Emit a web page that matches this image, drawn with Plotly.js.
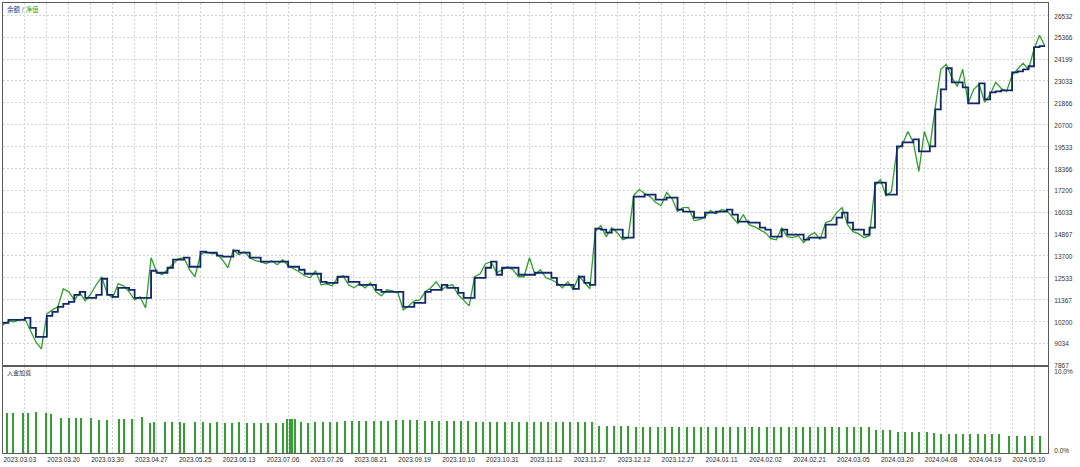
<!DOCTYPE html>
<html><head><meta charset="utf-8">
<script src="https://cdn.plot.ly/plotly-3.0.1.min.js"></script>
<style>html,body{margin:0;padding:0;background:#fff}#chart{width:1080px;height:467px}</style>
</head><body><div id="chart"></div>
<script>
const dateLabels = ['2023.03.03','2023.03.20','2023.03.30','2023.04.27','2023.05.25','2023.06.13','2023.07.06','2023.07.26','2023.08.21','2023.09.19','2023.10.10','2023.10.31','2023.11.12','2023.11.27','2023.12.12','2023.12.27','2024.01.11','2024.02.02','2024.02.21','2024.03.05','2024.03.20','2024.04.08','2024.04.19','2024.05.10'];

const balance = [10114,10275,10275,10275,10382,9847,9365,9365,10489,10703,10971,11131,11238,11613,11773,11452,11452,11613,12469,11613,11506,11987,11987,11880,11452,11452,11452,12897,12790,12790,13057,13486,13486,13593,13111,13111,13914,13860,13860,13700,13646,13646,13967,13860,13860,13593,13593,13379,13379,13379,13379,13379,13111,13111,12950,12736,12736,12736,12308,12255,12255,12576,12576,12308,12308,12148,12148,12148,11880,11773,11773,11773,11773,10971,10971,11185,11185,11773,11880,11880,12148,11987,11987,11720,11452,11452,12522,12522,13057,13379,12683,13057,13057,13057,12683,12683,12683,12790,12790,12790,12522,12148,12148,12148,11934,12576,12255,12148,15144,15091,14930,15091,15091,14663,14663,16857,16857,16964,16964,16696,16696,16803,16803,16161,16054,16054,15733,15733,16001,16001,16054,16054,16161,15894,15519,15519,15465,15465,15198,15091,14716,14716,15091,14823,14823,14823,14556,14663,14663,14663,15358,15358,15733,16001,15465,15091,15091,14823,15198,17606,17606,16964,16964,19532,19746,19746,19907,19265,19265,19532,21512,22582,23706,22957,22957,22689,21833,21833,22903,22047,22422,22475,22529,22529,23492,23545,23652,23813,24830,24883,24883];

const equity = [10007,10221,10168,10275,10328,9740,9098,8723,10596,10810,10971,11934,11773,11345,11720,11292,11666,12148,12576,11666,11452,12201,12094,11773,11345,11506,10917,13593,12843,12683,12950,13272,13539,13593,12950,12576,13753,13914,13807,13807,13486,13057,14021,13753,13914,13593,13432,13379,13272,13432,13218,13486,13164,13004,12843,12629,12522,12897,12148,12201,12094,12522,12629,12148,11987,12201,11987,12255,11773,11559,11880,11827,11720,10810,11024,11292,11345,11773,11987,12308,11880,12094,12148,11613,11345,11024,12576,12736,13272,13379,12790,12950,13111,12950,12576,12576,13593,12683,12950,12522,12415,12255,11987,12308,11880,12629,12308,11934,14984,15305,14716,15198,14930,14556,14663,16910,17231,17017,16857,16536,16375,17071,16750,16054,16268,16268,15572,15626,15786,16108,15947,16161,16108,15733,15412,15894,15358,15251,15091,14930,14609,14556,15198,14716,14663,14770,14395,14770,14930,14556,15465,15572,16001,16268,15358,14984,14877,14663,14770,17445,17766,16910,17124,19372,19639,20335,19746,18194,20335,19479,21619,23652,23920,23224,22743,23652,21833,22582,22850,21887,22315,22957,22636,22475,23331,23652,23974,23652,24723,25472,24883];

const loadPos = [0.78,1.77,3.59,4.50,6.02,7.79,8.70,10.58,12.04,13.31,14.17,16.05,17.51,18.91,21.15,22.01,23.47,25.35,26.75,27.53,29.49,30.82,32.22,33.06,35.01,
36.47,37.75,39.02,40.48,41.76,43.03,44.49,45.77,47.05,48.32,49.78,51.06,51.85,52.30,52.75,53.20,54.34,55.62,56.89,58.35,59.63,60.90,62.36,63.64,64.92,66.19,67.65,68.93,70.20,71.66,72.94,74.22,75.49,76.95,78.23,79.50,80.96,82.24,83.52,84.79,86.25,87.53,88.80,90.08,91.54,92.82,94.09,95.55,96.83,98.10,99.38,100.84,102.12,103.39,104.85,106.13,107.40,108.68,110.14,111.41,112.69,113.97,115.43,116.70,117.98,119.44,120.71,121.99,123.27,124.73,126.00,127.28,128.56,130.02,131.29,132.57,134.03,135.30,136.58,137.86,139.32,140.59,141.87,143.33,144.60,145.88,147.16,148.61,149.89,151.17,152.44,153.90,155.18,156.46,157.91,159.19,160.47,161.74,163.20,164.48,165.75,167.03,168.49,169.77,171.04,172.50,173.78,175.05,176.33,177.79,179.07,180.34,181.62,183.44,184.90,186.36,187.64,189.10];

const loadPct = [5.06,5.06,5.06,5.06,5.19,4.99,4.90,4.36,4.43,4.43,4.36,4.43,4.15,4.15,4.27,4.27,4.27,4.56,3.81,3.93,3.93,3.86,3.86,3.77,3.93,
3.89,3.83,3.89,3.78,3.83,3.89,3.78,3.83,3.78,3.83,3.78,3.83,4.21,4.21,4.21,4.21,3.89,3.83,3.89,3.89,3.94,3.94,4.0,4.0,4.0,4.0,4.05,4.05,4.05,4.1,4.1,4.1,4.1,4.0,4.0,4.0,4.0,4.0,4.0,4.0,3.89,3.89,3.89,3.89,3.89,3.89,3.89,3.89,3.89,3.89,3.94,3.94,3.94,3.94,3.94,3.94,3.94,3.35,3.35,3.35,3.35,3.35,3.24,3.24,3.24,3.24,3.24,3.24,3.24,3.24,3.24,3.24,3.24,3.24,3.24,3.24,3.24,3.24,3.24,3.24,3.24,3.24,3.24,3.24,3.24,3.24,3.24,3.24,3.24,3.24,3.24,3.24,3.24,3.24,3.24,2.92,2.92,2.92,2.59,2.59,2.59,2.59,2.59,2.48,2.38,2.38,2.38,2.38,2.38,2.38,2.38,2.38,2.38,2.11,2.11,2.11,2.11,2.11];

const yTickVals = [7867,9034,10200,11367,12533,13700,14867,16033,17200,18366,19533,20700,21866,23033,24199,25366,26532];
const yTickText = yTickVals.map(String);
const loadTickVals = [0,10];
const loadTickText = ['0.0%','10.0%'];

const idx = balance.map((_, i) => i);
const gridVals = [];
for (let k = 0; k < 48; k++) gridVals.push(k * 4);
const gridText = gridVals.map((v, k) => (k % 2 === 0 && dateLabels[k/2]) ? dateLabels[k/2] : '');

const GRID = '#d2d2d2', FRAME = '#5a5a5a';
const FONT = 'Liberation Sans, Arial, sans-serif';

const traces = [
  {x: idx, y: equity, type: 'scatter', mode: 'lines', line: {color: '#2ea12a', width: 1.3}, xaxis: 'x', yaxis: 'y', hoverinfo: 'skip'},
  {x: idx, y: balance, type: 'scatter', mode: 'lines', line: {color: '#102768', width: 1.8, shape: 'hv'}, xaxis: 'x', yaxis: 'y', hoverinfo: 'skip'},
  {x: loadPos, y: loadPct, type: 'bar', width: 0.37, marker: {color: '#34a034', line: {width: 0}}, xaxis: 'x2', yaxis: 'y2', hoverinfo: 'skip'}
];

const commonX = {range: [0, 190.55], tickvals: gridVals, ticktext: gridText, showgrid: true, gridcolor: GRID, griddash: '2px,2px', gridwidth: 1, showline: true, linecolor: FRAME, linewidth: 1, mirror: true, zeroline: false, ticks: '', fixedrange: true};

const layout = {
  width: 1080, height: 467,
  margin: {l: 3, r: 32, t: 3, b: 14, pad: 0},
  paper_bgcolor: '#ffffff', plot_bgcolor: '#ffffff',
  showlegend: false,
  bargap: 0,
  font: {family: FONT, size: 6.5, color: '#333333'},
  xaxis: Object.assign({}, commonX, {domain: [0, 1], anchor: 'y', showticklabels: false}),
  xaxis2: Object.assign({}, commonX, {domain: [0, 1], anchor: 'y2', showticklabels: true, ticklabelposition: 'outside right', tickfont: {family: FONT, size: 6.5, color: '#2a2a2a'}}),
  yaxis: {domain: [0.1956, 1], range: [7867, 27190], side: 'right', anchor: 'x', tickvals: yTickVals, ticktext: yTickText, showgrid: true, gridcolor: GRID, griddash: '2px,2px', showline: true, linecolor: FRAME, mirror: true, zeroline: false, ticks: '', ticklabelstandoff: 4, ticklabelshift: 1, tickfont: {family: FONT, size: 6.5, color: '#333'}, fixedrange: true},
  yaxis2: {domain: [0, 0.191], range: [0, 10.8], side: 'right', anchor: 'x2', tickvals: loadTickVals, ticktext: loadTickText, showgrid: false, showline: true, linecolor: FRAME, mirror: true, zeroline: false, ticks: '', ticklabelstandoff: 4, ticklabelshift: -2, tickfont: {family: FONT, size: 6.5, color: '#333'}, fixedrange: true},
  annotations: [
    {xref: 'paper', yref: 'paper', x: 0.002, y: 0.987, xanchor: 'left', yanchor: 'middle', showarrow: false,
     text: '<span style="color:#1f3c96">余额 /</span> <span style="color:#2ea12a">净值</span>',
     font: {family: 'Noto Sans CJK SC, sans-serif', size: 6.5}},
    {xref: 'paper', yref: 'paper', x: 0.002, y: 0.178, xanchor: 'left', yanchor: 'middle', showarrow: false,
     text: '入金加载', font: {family: 'Noto Sans CJK SC, sans-serif', size: 6, color: '#333'}}
  ]
};

Plotly.newPlot('chart', traces, layout, {staticPlot: true, displayModeBar: false});
</script></body></html>
